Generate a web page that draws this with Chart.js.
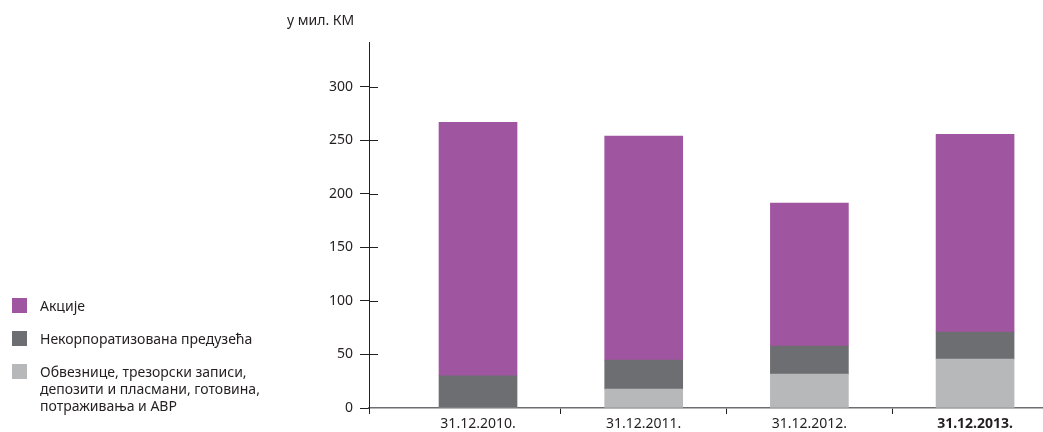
<!DOCTYPE html>
<html>
<head>
<meta charset="utf-8">
<script src="https://cdn.jsdelivr.net/npm/chart.js@4"></script>
<style>
  body { margin: 0; background: #fff; font-family: "Noto Sans", sans-serif; color: #231f20; }
  #wrap { position: relative; width: 1043px; height: 432px; }
  #unit { position: absolute; left: 287px; top: 10px; font-size: 14px; }
  .leg { position: absolute; left: 12px; font-size: 14px; line-height: 17px; }
  .leg span.box { position: absolute; left: 0; top: 1px; width: 15px; height: 15px; }
  .leg div { margin-left: 28px; white-space: nowrap; }
</style>
</head>
<body>
<div id="wrap">
  <canvas id="barChart" width="1043" height="432"></canvas>
  <div id="unit">у мил. КМ</div>
  <div id="legend"></div>
</div>
<script>
// categories and stacked series, bottom to top
const categories = ["31.12.2010.", "31.12.2011.", "31.12.2012.", "31.12.2013."];
const seriesNames = [
  "Обвезнице, трезорски записи,\nдепозити и пласмани, готовина,\nпотраживања и АВР",
  "Некорпоратизована предузећа",
  "Акције"
];
const seriesColors = ["#b7b8ba", "#6d6e71", "#a055a1"];
const obveznice = [0, 17.7, 31.7, 45.8];
const nekorporatizovana = [30, 27.1, 26.2, 25.2];
const akcije = [237, 209.2, 133.5, 184.8];
const yTicks = [0, 50, 100, 150, 200, 250, 300];

const xMin = -0.658;
const xMax = 3.41;
const textColor = "#231f20";

function toPoints(arr) {
  return arr.map((v, i) => ({ x: i, y: v }));
}

// legend (html so the last label can wrap), top item is the top of the stack
const legendTops = [297, 330, 363];
const legendEl = document.getElementById("legend");
[2, 1, 0].forEach((s, k) => {
  const item = document.createElement("div");
  item.className = "leg";
  item.style.top = legendTops[k] + "px";
  const box = document.createElement("span");
  box.className = "box";
  box.style.background = seriesColors[s];
  item.appendChild(box);
  seriesNames[s].split("\n").forEach((line) => {
    const d = document.createElement("div");
    d.textContent = line;
    item.appendChild(d);
  });
  legendEl.appendChild(item);
});

// short tick marks on the inner side of the y axis
const innerTicks = {
  id: "innerTicks",
  afterDraw(chart) {
    const ctx = chart.ctx;
    const y = chart.scales.y;
    const left = chart.chartArea.left;
    ctx.save();
    ctx.strokeStyle = textColor;
    ctx.lineWidth = 1;
    yTicks.forEach((t) => {
      if (t === 0) return;
      const py = Math.round(y.getPixelForValue(t)) + 0.5;
      ctx.beginPath();
      ctx.moveTo(left, py);
      ctx.lineTo(left + 9, py);
      ctx.stroke();
    });
    ctx.restore();
  },
};

const ctx = document.getElementById("barChart").getContext("2d");
new Chart(ctx, {
  type: "bar",
  data: {
    datasets: [
      { label: seriesNames[0], data: toPoints(obveznice), backgroundColor: seriesColors[0] },
      { label: seriesNames[1], data: toPoints(nekorporatizovana), backgroundColor: seriesColors[1] },
      { label: seriesNames[2], data: toPoints(akcije), backgroundColor: seriesColors[2] },
    ],
  },
  options: {
    responsive: false,
    animation: false,
    layout: { padding: { left: 319, top: 42, right: 0, bottom: 0 } },
    barThickness: 78,
    plugins: {
      legend: { display: false },
      tooltip: { enabled: false },
    },
    scales: {
      x: {
        type: "linear",
        stacked: true,
        offset: false,
        min: xMin,
        max: xMax,
        afterBuildTicks: (scale) => {
          const vals = [xMin];
          categories.forEach((c, i) => {
            vals.push(i);
            if (i < categories.length - 1) vals.push(i + 0.5);
          });
          scale.ticks = vals.map((v) => ({ value: v }));
        },
        afterFit: (scale) => { scale.height = 24; },
        ticks: {
          autoSkip: false,
          maxRotation: 0,
          padding: 2,
          color: textColor,
          font: (c) => ({
            family: "Noto Sans",
            size: 14,
            weight: c.tick && c.tick.value === 3 ? "bold" : "normal",
          }),
          callback: (v) => (Number.isInteger(v) ? categories[v] : ""),
        },
        grid: {
          offset: false,
          drawOnChartArea: false,
          tickLength: 6,
          tickColor: (c) => (c.tick && Number.isInteger(c.tick.value) ? "rgba(0,0,0,0)" : textColor),
        },
        border: { color: "#6d6e71", width: 1.5 },
      },
      y: {
        stacked: true,
        min: 0,
        max: 342,
        afterBuildTicks: (scale) => {
          scale.ticks = yTicks.map((v) => ({ value: v }));
        },
        afterFit: (scale) => { scale.width = 50; },
        ticks: {
          padding: 7,
          color: textColor,
          font: { family: "Noto Sans", size: 14 },
        },
        grid: { drawOnChartArea: false, tickLength: 9, tickColor: textColor },
        border: { color: textColor, width: 1 },
      },
    },
  },
  plugins: [innerTicks],
});
</script>
</body>
</html>
